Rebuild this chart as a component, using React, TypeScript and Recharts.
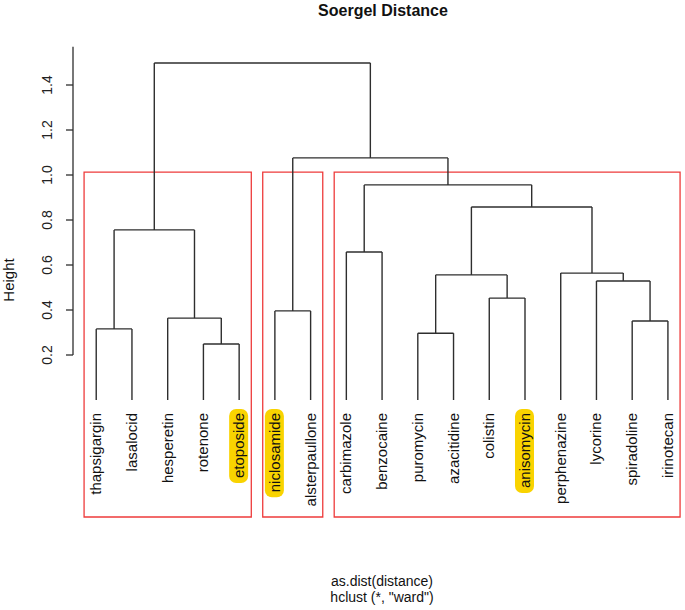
import {
  ComposedChart,
  XAxis,
  YAxis,
  Scatter,
  ReferenceLine,
  ReferenceArea,
} from 'recharts'

// leaf order, left to right
const leaves = [
  'thapsigargin', 'lasalocid', 'hesperetin', 'rotenone', 'etoposide',
  'niclosamide', 'alsterpaullone',
  'carbimazole', 'benzocaine', 'puromycin', 'azacitidine', 'colistin',
  'anisomycin', 'perphenazine', 'lycorine', 'spiradoline', 'irinotecan',
]

const highlighted = ['etoposide', 'niclosamide', 'anisomycin']

// hclust-style merge table: negative = leaf (1-based), positive = earlier merge
const mergeLeft = [-4, -10, -1, -16, -3, -6, -12, -15, 2, -14, -8, 3, 9, 11, 6, 12]
const mergeRight = [-5, -11, -2, -17, 1, -7, -13, 4, 7, 8, -9, 5, 10, 13, 14, 15]
const mergeHeight = [
  0.249, 0.297, 0.316, 0.351, 0.364, 0.396, 0.453, 0.529,
  0.556, 0.564, 0.658, 0.756, 0.858, 0.956, 1.076, 1.498,
]

// red boxes around the three clusters (first leaf, last leaf)
const clusterFirst = [1, 6, 8]
const clusterLast = [5, 7, 17]

const yTicks = [0.2, 0.4, 0.6, 0.8, 1.0, 1.2, 1.4]

const FONT = '"Liberation Sans", Arial, sans-serif'
const LINK = '#2e2e2e'
const RED = '#ee3b3b'
const LABEL_SIZE = 15

// arial widths (per 1000 em) for lowercase, used for the highlight boxes
const CHAR_W: Record<string, number> = {
  a: 556, b: 556, c: 500, d: 556, e: 556, f: 278, g: 556, h: 556, i: 222,
  j: 222, k: 500, l: 222, m: 833, n: 556, o: 556, p: 556, q: 556, r: 333,
  s: 500, t: 278, u: 556, v: 500, w: 722, x: 500, y: 500, z: 500,
}
function textWidth(s: string, size: number) {
  let w = 0
  for (const ch of s) w += CHAR_W[ch] ?? 556
  return (w / 1000) * size
}

type Node = { x: number; h: number }

function buildSegments() {
  const nodes: Node[] = []
  const get = (id: number): Node => (id < 0 ? { x: -id, h: 0 } : nodes[id - 1])
  const segs: { x1: number; y1: number; x2: number; y2: number }[] = []
  mergeHeight.forEach((h, i) => {
    const l = get(mergeLeft[i])
    const r = get(mergeRight[i])
    segs.push({ x1: l.x, y1: l.h, x2: l.x, y2: h })
    segs.push({ x1: l.x, y1: h, x2: r.x, y2: h })
    segs.push({ x1: r.x, y1: h, x2: r.x, y2: r.h })
    nodes.push({ x: (l.x + r.x) / 2, h })
  })
  return segs
}

const leafData = leaves.map((name, i) => ({ x: i + 1, y: 0, name }))

// eslint-disable-next-line @typescript-eslint/no-explicit-any
function LeafLabel(props: any) {
  const { cx, cy, payload } = props
  if (cx == null || cy == null) return null
  const name: string = payload.name
  const w = textWidth(name, LABEL_SIZE)
  const hi = highlighted.includes(name)
  return (
    <g transform={`translate(${cx + 5}, ${cy + 13}) rotate(-90)`}>
      {hi && <rect x={-w - 5} y={-15} width={w + 9} height={19} rx={7} fill="#f9d300" />}
      <text x={0} y={0} textAnchor="end" fontSize={LABEL_SIZE} fontFamily={FONT} fill="#111">
        {name}
      </text>
    </g>
  )
}

// eslint-disable-next-line @typescript-eslint/no-explicit-any
function YTick(props: any) {
  const { x, y, payload } = props
  return (
    <text
      x={x}
      y={y}
      transform={`rotate(-90, ${x}, ${y})`}
      textAnchor="middle"
      fontSize={14}
      fontFamily={FONT}
      fill="#222"
    >
      {Number(payload.value).toFixed(1)}
    </text>
  )
}

export default function App() {
  const segments = buildSegments()
  return (
    <div style={{ position: 'absolute', left: 0, top: 0, width: 685, height: 610, background: '#fff' }}>
      <ComposedChart width={685} height={610} margin={{ top: 40, right: 1, bottom: 75, left: 0 }}>
        <XAxis type="number" dataKey="x" domain={[0.35, 17.45]} allowDataOverflow hide />
        <YAxis
          type="number"
          dataKey="y"
          domain={[-0.6, 1.6]}
          allowDataOverflow
          ticks={yTicks}
          width={73}
          axisLine={false}
          tickSize={7}
          tickMargin={14}
          tickLine={{ stroke: LINK, strokeWidth: 1.3 }}
          tick={<YTick />}
        />
        {clusterFirst.map((a, i) => (
          <ReferenceArea
            key={'box' + i}
            x1={a - 0.34}
            x2={clusterLast[i] + 0.34}
            y1={-0.52}
            y2={1.013}
            fill="none"
            fillOpacity={0}
            stroke={RED}
            strokeWidth={1.3}
            ifOverflow="visible"
          />
        ))}
        <ReferenceLine
          segment={[{ x: 0.35, y: 0.2 }, { x: 0.35, y: 1.57 }]}
          stroke={LINK}
          strokeWidth={1.3}
          ifOverflow="visible"
        />
        {segments.map((s, i) => (
          <ReferenceLine
            key={'seg' + i}
            segment={[{ x: s.x1, y: s.y1 }, { x: s.x2, y: s.y2 }]}
            stroke={LINK}
            strokeWidth={1.4}
            ifOverflow="visible"
          />
        ))}
        <Scatter data={leafData} dataKey="y" shape={<LeafLabel />} isAnimationActive={false} />
      </ComposedChart>
      <svg
        width={685}
        height={610}
        style={{ position: 'absolute', left: 0, top: 0, pointerEvents: 'none' }}
      >
        <text x={383} y={16} textAnchor="middle" fontSize={16} fontWeight="bold" fontFamily={FONT} fill="#111">
          Soergel Distance
        </text>
        <text
          x={14}
          y={280}
          transform="rotate(-90, 14, 280)"
          textAnchor="middle"
          fontSize={15}
          fontFamily={FONT}
          fill="#111"
        >
          Height
        </text>
        <text x={382} y={586} textAnchor="middle" fontSize={14} fontFamily={FONT} fill="#111">
          as.dist(distance)
        </text>
        <text x={382} y={602} textAnchor="middle" fontSize={14} fontFamily={FONT} fill="#111">
          hclust (*, "ward")
        </text>
      </svg>
    </div>
  )
}
